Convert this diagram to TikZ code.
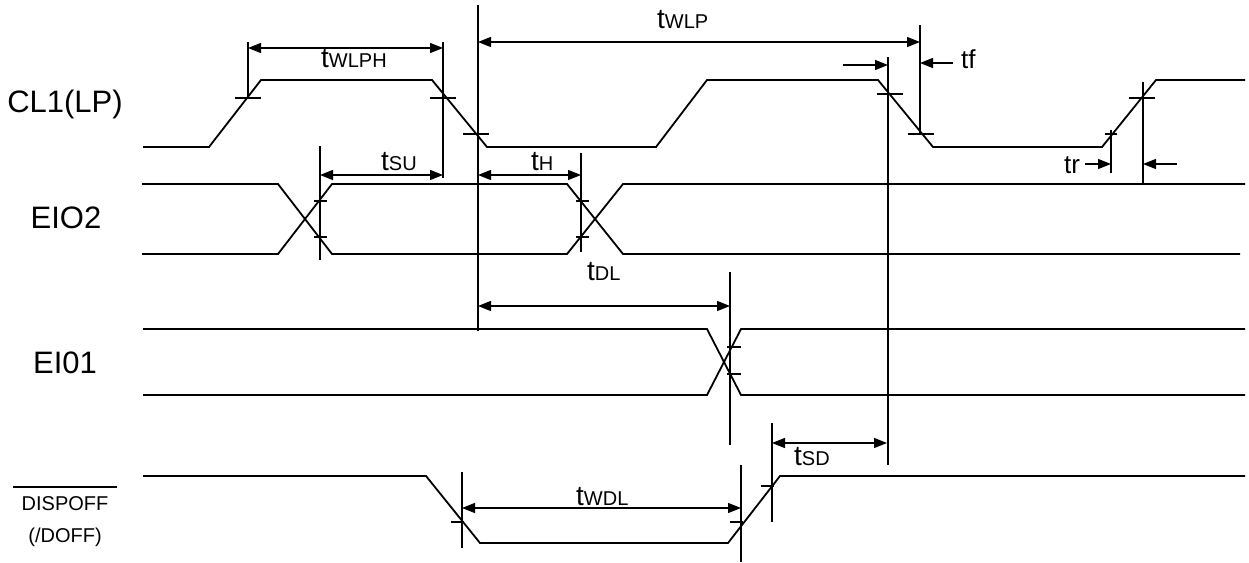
\documentclass[tikz,border=0pt]{standalone}
\usepackage{fontspec}
\setmainfont{Liberation Sans}
\usetikzlibrary{arrows.meta}

\newcommand\tlab[1]{{\fontsize{28}{30}\selectfont t}{\fontsize{20}{22}\selectfont #1}}

\tikzset{
    sig/.style={line width=1.8pt},
    guide/.style={line width=1.2pt},
    dim/.style={line width=1.2pt, {Triangle[length=13pt,width=10pt]}-{Triangle[length=13pt,width=10pt]}},
    onearrow/.style={line width=1.2pt, -{Triangle[length=13pt,width=10pt]}},
    lab/.style={inner sep=0pt, anchor=base west},
    signame/.style={inner sep=0pt, anchor=base, font=\fontsize{31}{34}\selectfont},
    smallname/.style={inner sep=0pt, anchor=base, font=\fontsize{20}{22}\selectfont}
}

\begin{document}
\begin{tikzpicture}[x=1pt, y=-1pt]
    \useasboundingbox (0,0) rectangle (1249,562);

    % signal names
    \node[signame] (cl1) at (65,112) {CL1(LP)};
    \node[signame] (eio2) at (66,228) {EIO2};
    \node[signame] (ei01) at (65,373) {EI01};
    \node[smallname] (dispoff) at (65,510) {DISPOFF};
    \node[smallname] (doff) at (65,542) {(/DOFF)};
    \draw[guide] (13,487) -- (117,487);

    % waveforms
    \draw[sig] (143,147) -- (209,147) -- (261,80) -- (432,80) -- (487,147) -- (656,147) -- (707,80)
        -- (878,80) -- (933,147) -- (1102,147) -- (1156,80) -- (1245,80);
    \draw[sig] (142,184) -- (278,184) -- (332,254) -- (567,254) -- (623,184) -- (1245,184);
    \draw[sig] (142,254) -- (278,254) -- (332,184) -- (567,184) -- (623,254) -- (1240,254);
    \draw[sig] (143,329) -- (707,329) -- (741,395) -- (1245,395);
    \draw[sig] (143,395) -- (707,395) -- (741,329) -- (1245,329);
    \draw[sig] (143,476) -- (426,476) -- (480,543) -- (728,543) -- (780,476) -- (1245,476);

    % ticks
    \foreach \x/\y in {248/98, 443/98, 476/134, 890/94, 921/134, 1142/98}
        \draw[guide] (\x-13,\y) -- (\x+13,\y);
    \draw[guide] (1105,134) -- (1117,134);
    \foreach \x/\y in {320/201, 320/237, 582/201, 582/237}
        \draw[guide] (\x-6,\y) -- (\x+7,\y);
    \foreach \y in {347, 374}
        \draw[guide] (727,\y) -- (741,\y);
    \foreach \x/\y in {462/522, 741/522, 772/486}
        \draw[guide] (\x-11,\y) -- (\x+2,\y);

    % guide lines
    \draw[guide] (248,42) -- (248,98);
    \draw[guide] (443,42) -- (443,178);
    \draw[guide] (478,5) -- (478,331);
    \draw[guide] (920,25) -- (920,134);
    \draw[guide] (888,57) -- (888,465);
    \draw[guide] (1111,130) -- (1111,173);
    \draw[guide] (1143,82) -- (1143,185);
    \draw[guide] (320,146) -- (320,260);
    \draw[guide] (581,153) -- (581,252);
    \draw[guide] (730,272) -- (730,445);
    \draw[guide] (462,472) -- (462,548);
    \draw[guide] (741,465) -- (741,562);
    \draw[guide] (772,423) -- (772,522);

    % timing arrows
    \draw[dim] (248,48) -- (443,48);
    \node[lab] (twlph) at (321,67) {\tlab{WLPH}};
    \draw[dim] (478,42) -- (920,42);
    \node[lab] (twlp) at (657,28) {\tlab{WLP}};
    \draw[onearrow] (843,65) -- (888,65);
    \draw[onearrow] (953,63) -- (920,63);
    \node[lab, font=\fontsize{26}{28}\selectfont] (tf) at (961,68) {tf};
    \draw[dim] (320,175) -- (443,175);
    \node[lab] (tsu) at (381,170) {\tlab{SU}};
    \draw[dim] (478,175) -- (581,175);
    \node[lab] (th) at (531,170) {\tlab{H}};
    \draw[onearrow] (1085,164) -- (1111,164);
    \node[lab, font=\fontsize{26}{28}\selectfont] (tr) at (1064,173) {tr};
    \draw[onearrow] (1177,164) -- (1143,164);
    \draw[dim] (478,306) -- (730,306);
    \node[lab] (tdl) at (587,280) {\tlab{DL}};
    \draw[dim] (772,443) -- (887,443);
    \node[lab] (tsd) at (794,465) {\tlab{SD}};
    \draw[dim] (462,508) -- (741,508);
    \node[lab] (twdl) at (576,505) {\tlab{WDL}};
\end{tikzpicture}
\end{document}
